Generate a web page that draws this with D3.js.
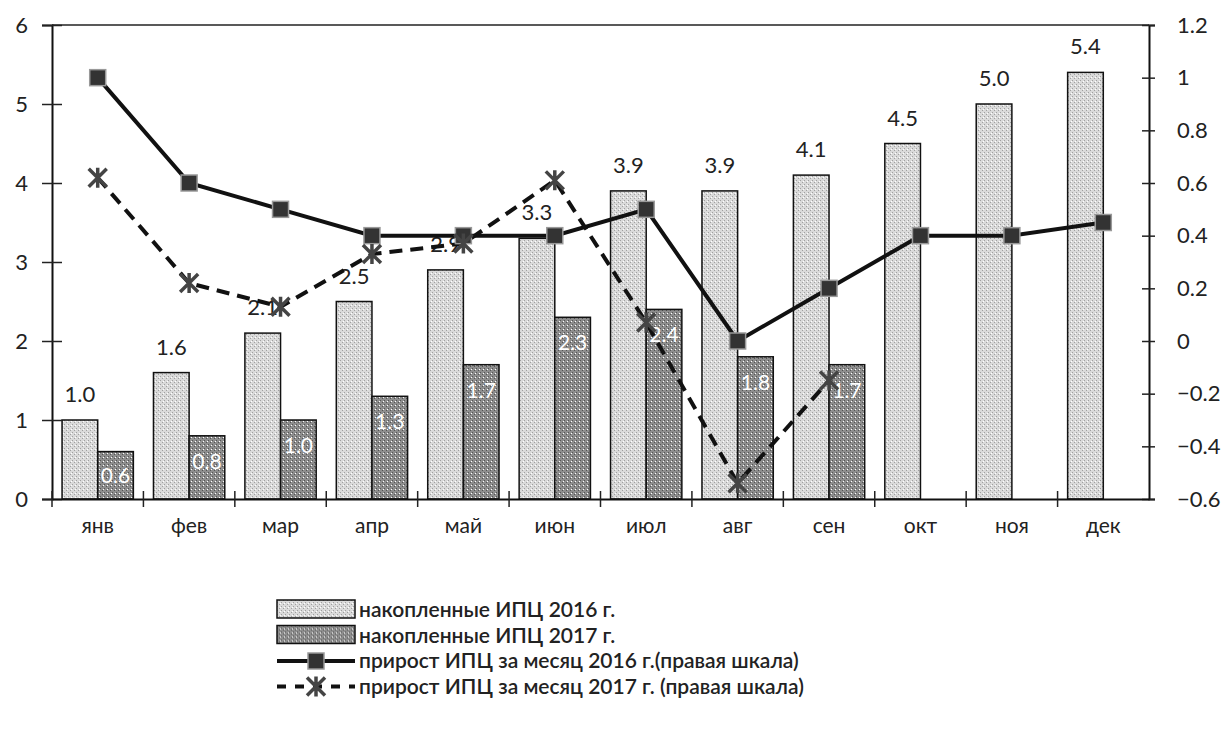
<!DOCTYPE html>
<html>
<head>
<meta charset="utf-8">
<script src="https://cdn.jsdelivr.net/npm/d3@7"></script>
<style>
  body { margin: 0; background: #fff; }
  svg { font-family: Lato, "Open Sans", sans-serif; }
</style>
</head>
<body>
<svg id="chart" width="1224" height="729"></svg>
<script>
// data
var months = ["янв", "фев", "мар", "апр", "май", "июн", "июл", "авг", "сен", "окт", "ноя", "дек"];
var cum2016 = [1.0, 1.6, 2.1, 2.5, 2.9, 3.3, 3.9, 3.9, 4.1, 4.5, 5.0, 5.4];
var cum2017 = [0.6, 0.8, 1.0, 1.3, 1.7, 2.3, 2.4, 1.8, 1.7];
var mom2016 = [1.0, 0.6, 0.5, 0.4, 0.4, 0.4, 0.5, 0.0, 0.2, 0.4, 0.4, 0.45];
var mom2017 = [0.62, 0.22, 0.13, 0.33, 0.37, 0.61, 0.07, -0.54, -0.15];
var leftTicks = [0, 1, 2, 3, 4, 5, 6];
var rightTicks = [-0.6, -0.4, -0.2, 0, 0.2, 0.4, 0.6, 0.8, 1, 1.2];
var legendLabels = [
    "накопленные ИПЦ 2016 г.",
    "накопленные ИПЦ 2017 г.",
    "прирост ИПЦ за месяц 2016 г.(правая шкала)",
    "прирост ИПЦ за месяц 2017 г. (правая шкала)"
];

var svg = d3.select("#chart");
var x0 = 52, x1 = 1149, yTop = 25, yBot = 499;

var x = d3.scaleBand().domain(months).range([x0, x1]).paddingInner(0.22).paddingOuter(0.11);
var xb = d3.scaleBand().domain(months).range([x0, x1]);
var sub = d3.scaleBand().domain(["a", "b"]).range([0, x.bandwidth()]);
var yL = d3.scaleLinear().domain([0, 6]).range([yBot, yTop]);
var yR = d3.scaleLinear().domain([-0.6, 1.2]).range([yBot, yTop]);

// stipple textures for the bars
var defs = svg.append("defs");
function stipple(id, base, dot) {
    var p = defs.append("pattern").attr("id", id).attr("width", 4).attr("height", 4)
        .attr("patternUnits", "userSpaceOnUse");
    p.append("rect").attr("width", 4).attr("height", 4).attr("fill", base);
    p.append("rect").attr("x", 0).attr("y", 0).attr("width", 1).attr("height", 1).attr("fill", dot);
    p.append("rect").attr("x", 2).attr("y", 2).attr("width", 1).attr("height", 1).attr("fill", dot);
    p.append("rect").attr("x", 3).attr("y", 1).attr("width", 1).attr("height", 1).attr("fill", "#fff");
}
stipple("light", "#dadada", "#a0a0a0");
stipple("dark", "#8e8e8e", "#555");

// frame
svg.append("line").attr("x1", x0).attr("x2", x1).attr("y1", yTop).attr("y2", yTop)
    .attr("stroke", "#222").attr("stroke-width", 1.5);

// bars
var g = svg.append("g");
g.selectAll(".b16").data(cum2016).join("rect")
    .attr("x", (d, i) => x(months[i]) + sub("a"))
    .attr("y", d => yL(d))
    .attr("width", sub.bandwidth())
    .attr("height", d => yBot - yL(d))
    .attr("fill", "url(#light)").attr("stroke", "#111").attr("stroke-width", 1.5);
g.selectAll(".b17").data(cum2017).join("rect")
    .attr("x", (d, i) => x(months[i]) + sub("b"))
    .attr("y", d => yL(d))
    .attr("width", sub.bandwidth())
    .attr("height", d => yBot - yL(d))
    .attr("fill", "url(#dark)").attr("stroke", "#111").attr("stroke-width", 1.5);

// bar labels
g.selectAll(".l16").data(cum2016).join("text")
    .attr("x", (d, i) => x(months[i]) + sub("a") + sub.bandwidth() / 2)
    .attr("y", d => yL(d) - 18)
    .attr("text-anchor", "middle").attr("font-size", 22).attr("fill", "#222")
    .text(d => d.toFixed(1));
g.selectAll(".l17").data(cum2017).join("text")
    .attr("x", (d, i) => x(months[i]) + sub("b") + sub.bandwidth() / 2)
    .attr("y", d => yL(d) + Math.min(25, (yBot - yL(d)) / 2) + 8)
    .attr("text-anchor", "middle").attr("font-size", 21).attr("fill", "#fff")
    .text(d => d.toFixed(1));

// axes
var axL = svg.append("g").attr("transform", "translate(" + x0 + ",0)")
    .call(d3.axisLeft(yL).tickValues(leftTicks).tickSize(10).tickPadding(14).tickFormat(d3.format("d")));
axL.selectAll(".tick line").attr("x2", -10).attr("x1", 10);
var axR = svg.append("g").attr("transform", "translate(" + x1 + ",0)")
    .call(d3.axisRight(yR).tickValues(rightTicks).tickSize(6).tickPadding(22).tickFormat(d => d3.format("")(+d.toFixed(1))));
axR.selectAll(".tick line").attr("x1", -7).attr("x2", 6);
var axB = svg.append("g").attr("transform", "translate(0," + yBot + ")")
    .call(d3.axisBottom(xb).tickSize(0).tickPadding(19));
axB.selectAll(".tick").each(function (d, i) {
    d3.select(this).append("line").attr("x1", -xb.bandwidth() / 2).attr("x2", -xb.bandwidth() / 2)
        .attr("y1", -8).attr("y2", 8).attr("stroke", "#222");
});
[axL, axR, axB].forEach(a => {
    a.select(".domain").attr("stroke", "#111").attr("stroke-width", 2);
    a.selectAll("text").attr("font-size", 22).attr("fill", "#222").attr("font-family", "Lato, sans-serif");
    a.selectAll(".tick line").attr("stroke", "#222").attr("stroke-width", 1.5);
});
axB.selectAll("text").attr("font-size", 21);

// lines on the right scale
var cx = i => xb(months[i]) + xb.bandwidth() / 2;
var line = d3.line().x((d, i) => cx(i)).y(d => yR(d));
svg.append("path").datum(mom2016).attr("d", line)
    .attr("fill", "none").attr("stroke", "#111").attr("stroke-width", 4);
svg.append("path").datum(mom2017).attr("d", line)
    .attr("fill", "none").attr("stroke", "#111").attr("stroke-width", 4).attr("stroke-dasharray", "13,8");

function square(sel) {
    sel.append("rect").attr("x", -8).attr("y", -8).attr("width", 16).attr("height", 16)
        .attr("fill", "#333").attr("stroke", "#999").attr("stroke-width", 1.5);
}
function asterisk(sel) {
    sel.append("path").attr("d", "M-9,-9L9,9M-9,9L9,-9M0,-10L0,10")
        .attr("stroke", "#444").attr("stroke-width", 3.5).attr("fill", "none");
}
svg.selectAll(".m16").data(mom2016).join("g")
    .attr("transform", (d, i) => "translate(" + cx(i) + "," + yR(d) + ")").call(square);
svg.selectAll(".m17").data(mom2017).join("g")
    .attr("transform", (d, i) => "translate(" + cx(i) + "," + yR(d) + ")").call(asterisk);

// legend
var leg = svg.append("g").attr("transform", "translate(277,598)");
legendLabels.forEach((t, i) => {
    var row = leg.append("g").attr("transform", "translate(0," + (i * 25.5) + ")");
    if (i < 2) {
        row.append("rect").attr("x", 0).attr("y", 2).attr("width", 78).attr("height", 18)
            .attr("fill", i == 0 ? "url(#light)" : "url(#dark)").attr("stroke", "#111").attr("stroke-width", 1.5);
    } else {
        row.append("line").attr("x1", 0).attr("x2", 78).attr("y1", 12).attr("y2", 12)
            .attr("stroke", "#111").attr("stroke-width", 4)
            .attr("stroke-dasharray", i == 3 ? "9,9" : null);
        var m = row.append("g").attr("transform", "translate(39,12)");
        if (i == 2) square(m); else asterisk(m);
    }
    row.append("text").attr("x", 82).attr("y", 19).attr("font-size", 21)
        .attr("font-weight", 600).attr("fill", "#222").text(t);
});
</script>
</body>
</html>
